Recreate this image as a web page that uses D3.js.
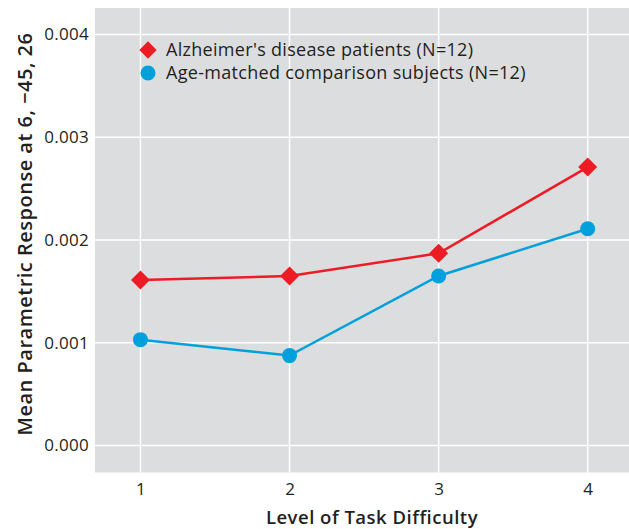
<!DOCTYPE html>
<html><head><meta charset="utf-8">
<script src="https://cdn.jsdelivr.net/npm/d3@7"></script>
<style>body{margin:0;background:#fff;} svg{display:block;font-family:"Open Sans","Noto Sans",sans-serif;}</style>
</head><body>
<svg id="c" width="629" height="529"></svg>
<script>
const levels = [1, 2, 3, 4];
const alzheimerValues = [0.00161, 0.00165, 0.00187, 0.00271];
const comparisonValues = [0.00103, 0.000875, 0.00165, 0.00211];
const yTicks = [0, 0.001, 0.002, 0.003, 0.004];
const seriesNames = ["Alzheimer's disease patients (N=12)", "Age-matched comparison subjects (N=12)"];

const svg = d3.select("#c");
const x = d3.scaleLinear().domain([0.695, 4.277]).range([95, 629]);
const y = d3.scaleLinear().domain([-0.000263, 0.004258]).range([472.5, 8]);
const red = "#ed1c24", blue = "#00a0dc", ink = "#231f20";

svg.append("rect").attr("x", x.range()[0]).attr("y", y.range()[1])
  .attr("width", x.range()[1]-x.range()[0]).attr("height", y.range()[0]-y.range()[1])
  .attr("fill", "#dcdddf");

// grid
svg.append("g").selectAll("line").data(yTicks).join("line")
  .attr("x1", x.range()[0]).attr("x2", x.range()[1])
  .attr("y1", d=>y(d)).attr("y2", d=>y(d)).attr("stroke", "#fff").attr("stroke-width", 1.5);
svg.append("g").selectAll("line").data(levels).join("line")
  .attr("y1", y.range()[1]).attr("y2", y.range()[0])
  .attr("x1", d=>x(d)).attr("x2", d=>x(d)).attr("stroke", "#fff").attr("stroke-width", 1.5);

// axes (text only)
const yAxis = svg.append("g").attr("transform", `translate(${x.range()[0]},0)`)
  .call(d3.axisLeft(y).tickValues(yTicks).tickFormat(d3.format(".3f")).tickSize(0).tickPadding(6));
yAxis.select(".domain").remove();
yAxis.selectAll("text").attr("font-size", 17).attr("letter-spacing", 0.3).attr("fill", ink).attr("font-family", "'Open Sans','Noto Sans',sans-serif");

const xAxis = svg.append("g").attr("transform", `translate(0,${y.range()[0]})`)
  .call(d3.axisBottom(x).tickValues(levels).tickFormat(d3.format("d")).tickSize(0).tickPadding(10));
xAxis.select(".domain").remove();
xAxis.selectAll("text").attr("font-size", 17).attr("fill", ink).attr("font-family", "'Open Sans','Noto Sans',sans-serif");

// titles
svg.append("text").attr("x", 372).attr("y", 524).attr("text-anchor", "middle")
  .attr("font-size", 18.5).attr("letter-spacing", 0.5).attr("font-weight", 600).attr("fill", ink)
  .text("Level of Task Difficulty");
svg.append("text").attr("transform", "translate(32,234) rotate(-90)").attr("text-anchor", "middle")
  .attr("font-size", 20).attr("letter-spacing", 0.5).attr("font-weight", 600).attr("fill", ink)
  .text("Mean Parametric Response at 6, \u221245, 26");

// lines
const line = d3.line().x((d,i)=>x(levels[i])).y(d=>y(d));
svg.append("path").datum(comparisonValues).attr("d", line).attr("fill","none").attr("stroke", blue).attr("stroke-width", 2.5);
svg.append("path").datum(alzheimerValues).attr("d", line).attr("fill","none").attr("stroke", red).attr("stroke-width", 2.5);

const diamond = d3.symbol().type(d3.symbolSquare).size(180);
svg.append("g").selectAll("path").data(alzheimerValues).join("path")
  .attr("d", diamond)
  .attr("transform", (d,i)=>`translate(${x(levels[i])},${y(d)}) rotate(45)`)
  .attr("fill", red);
svg.append("g").selectAll("circle").data(comparisonValues).join("circle")
  .attr("cx", (d,i)=>x(levels[i])).attr("cy", d=>y(d)).attr("r", 7.5).attr("fill", blue);

// legend
svg.append("path").attr("d", d3.symbol().type(d3.symbolSquare).size(150)())
  .attr("transform", "translate(148,50) rotate(45)").attr("fill", red);
svg.append("circle").attr("cx", 148).attr("cy", 73).attr("r", 7.5).attr("fill", blue);
svg.append("text").attr("x", 166).attr("y", 56).attr("font-size", 18).attr("letter-spacing", 0.3).attr("fill", ink).text(seriesNames[0]);
svg.append("text").attr("x", 166).attr("y", 79).attr("font-size", 18).attr("letter-spacing", 0.3).attr("fill", ink).text(seriesNames[1]);
</script>
</body></html>
